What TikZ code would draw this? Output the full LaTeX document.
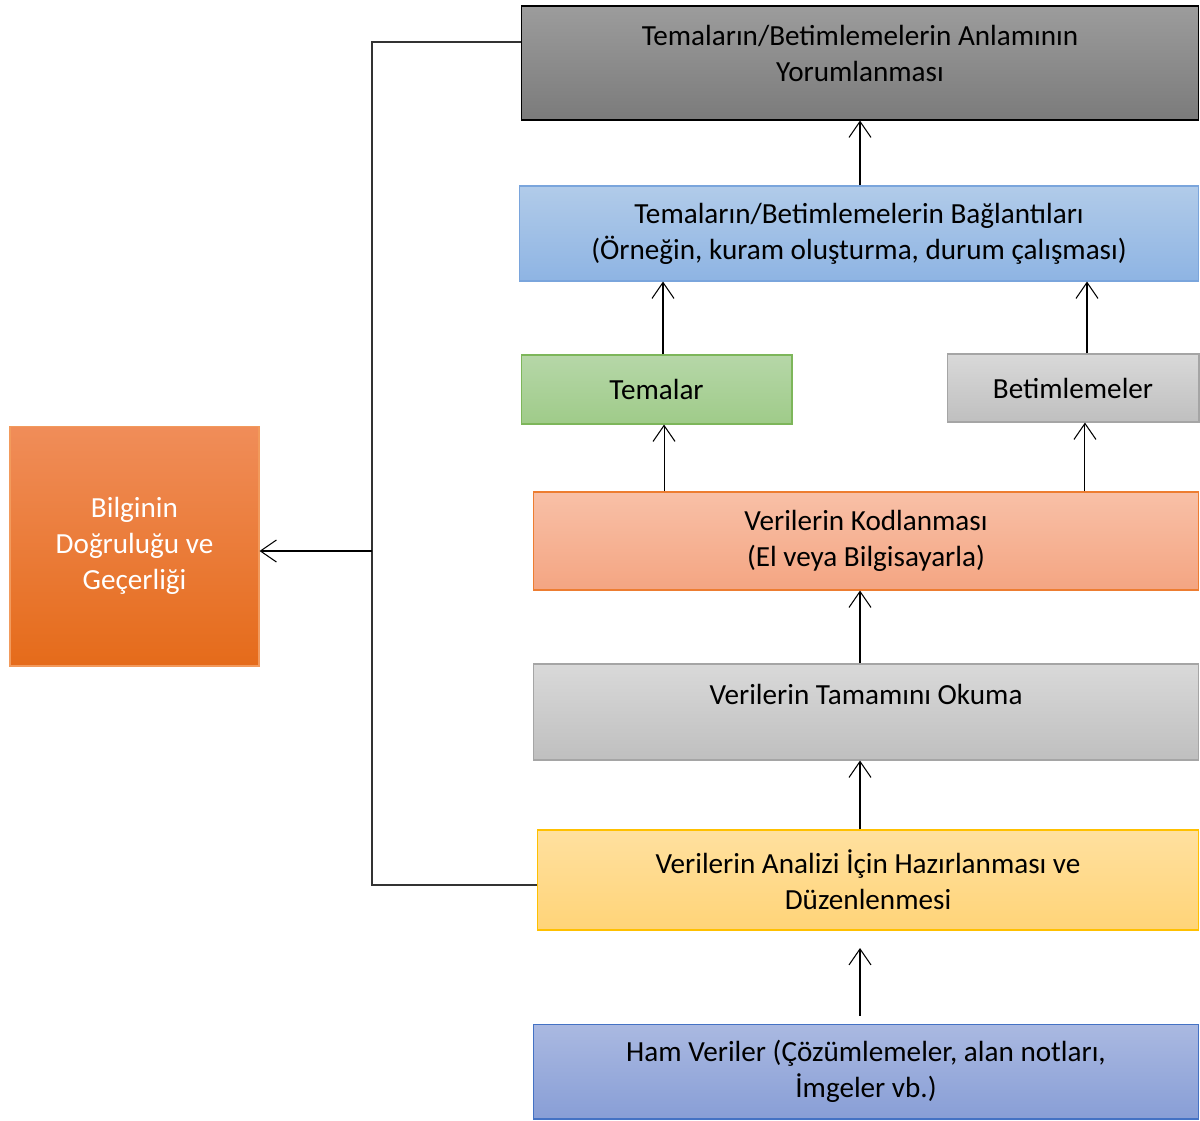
\documentclass[tikz,border=0pt]{standalone}
\usepackage{fontspec}
\setmainfont{Carlito}
\usetikzlibrary{arrows.meta}

\definecolor{interpTop}{HTML}{9C9C9C}
\definecolor{interpBot}{HTML}{7B7B7B}
\definecolor{linkTop}{HTML}{B1CBE9}
\definecolor{linkBot}{HTML}{8EB4E3}
\definecolor{linkLine}{HTML}{7AA5DC}
\definecolor{themeTop}{HTML}{B6D7A8}
\definecolor{themeBot}{HTML}{9FCB89}
\definecolor{themeLine}{HTML}{7DB65A}
\definecolor{greyTop}{HTML}{D9D9D9}
\definecolor{greyBot}{HTML}{BFBFBF}
\definecolor{greyLine}{HTML}{A5A5A5}
\definecolor{codeTop}{HTML}{F8C0A7}
\definecolor{codeBot}{HTML}{F4A582}
\definecolor{codeLine}{HTML}{ED7D31}
\definecolor{prepTop}{HTML}{FFE09F}
\definecolor{prepBot}{HTML}{FFD478}
\definecolor{prepLine}{HTML}{FFC000}
\definecolor{rawTop}{HTML}{AAB9E1}
\definecolor{rawBot}{HTML}{889ED6}
\definecolor{rawLine}{HTML}{4472C4}
\definecolor{validTop}{HTML}{F08D59}
\definecolor{validBot}{HTML}{E56B1A}
\definecolor{validLine}{HTML}{F29A5C}

\begin{document}
\begin{tikzpicture}[
    x=0.02cm, y=-0.02cm,
    every node/.append style={font=\fontsize{16.6}{20.5}\selectfont},
    stage/.style={rectangle, draw=#1, line width=0.6pt, align=center, inner sep=0pt},
    arr/.style={draw=black, line width=0.6pt, -{Straight Barb[length=0.32cm, width=0.44cm]}},
    bus/.style={draw=black!80, line width=0.8pt}
]
    \useasboundingbox (0,0) rectangle (1200,1120);

    % Yorumlama ve baglantilar
    \node[stage=black, top color=interpTop, bottom color=interpBot, minimum width=13.56cm, minimum height=2.28cm] (interp) at (860,63) {Temaların/Betimlemelerin Anlamının\\Yorumlanması\\[-9pt]~};
    \node[stage=linkLine, top color=linkTop, bottom color=linkBot, minimum width=13.6cm, minimum height=1.9cm] (links) at (859,233.5) {Temaların/Betimlemelerin Bağlantıları\\(Örneğin, kuram oluşturma, durum çalışması)};

    % Temalar / Betimlemeler
    \node[stage=themeLine, top color=themeTop, bottom color=themeBot, minimum width=5.42cm, minimum height=1.38cm] (themes) at (656.5,389.5) {Temalar};
    \node[stage=greyLine, top color=greyTop, bottom color=greyBot, minimum width=5.04cm, minimum height=1.36cm] (descr) at (1073,388) {Betimlemeler};

    % Kodlama, okuma, hazirlama
    \node[stage=codeLine, top color=codeTop, bottom color=codeBot, minimum width=13.32cm, minimum height=1.96cm] (coding) at (866,541) {Verilerin Kodlanması\\(El veya Bilgisayarla)};
    \node[stage=greyLine, top color=greyTop, bottom color=greyBot, minimum width=13.32cm, minimum height=1.92cm] (reading) at (866,712) {Verilerin Tamamını Okuma\\~};
    \node[stage=prepLine, top color=prepTop, bottom color=prepBot, minimum width=13.24cm, minimum height=2.0cm] (prep) at (868,880) {Verilerin Analizi İçin Hazırlanması ve\\Düzenlenmesi};
    \node[stage=rawLine, top color=rawTop, bottom color=rawBot, minimum width=13.32cm, minimum height=1.9cm] (raw) at (866,1071.5) {Ham Veriler (Çözümlemeler, alan notları,\\İmgeler vb.)};

    % Dogruluk ve gecerlik
    \node[stage=validLine, top color=validTop, bottom color=validBot, text=white, minimum width=4.98cm, minimum height=4.8cm] (valid) at (134.5,546) {Bilginin\\Doğruluğu ve\\Geçerliği};

    % Oklar
    \draw[arr] (links.north -| interp.south) -- (interp.south);
    \draw[arr] ([xshift=0.13cm]themes.north) -- ([xshift=0.13cm]themes.north |- links.south);
    \draw[arr] ([xshift=0.28cm]descr.north) -- ([xshift=0.28cm]descr.north |- links.south);
    \draw[arr] ([xshift=-4.04cm]coding.north) -- ([xshift=-4.04cm]coding.north |- themes.south);
    \draw[arr] ([xshift=4.38cm]coding.north) -- ([xshift=4.38cm]coding.north |- descr.south);
    \draw[arr] ([xshift=-0.12cm]reading.north) -- ([xshift=-0.12cm]reading.north |- coding.south);
    \draw[arr] ([xshift=-0.16cm]prep.north) -- ([xshift=-0.16cm]prep.north |- reading.south);
    \draw[arr] ([xshift=-0.12cm, yshift=0.16cm]raw.north) -- ([xshift=-0.12cm]raw.north |- 0,948);

    % Geri besleme hatti
    \coordinate (busTop) at (372,42);
    \coordinate (busMid) at (372,551);
    \coordinate (busBot) at (372,885);
    \draw[bus] (interp.west |- busTop) -- (busTop) -- (busBot) -- (prep.west |- busBot);
    \draw[arr] (busMid) -- (valid.east |- busMid);

\end{tikzpicture}
\end{document}
